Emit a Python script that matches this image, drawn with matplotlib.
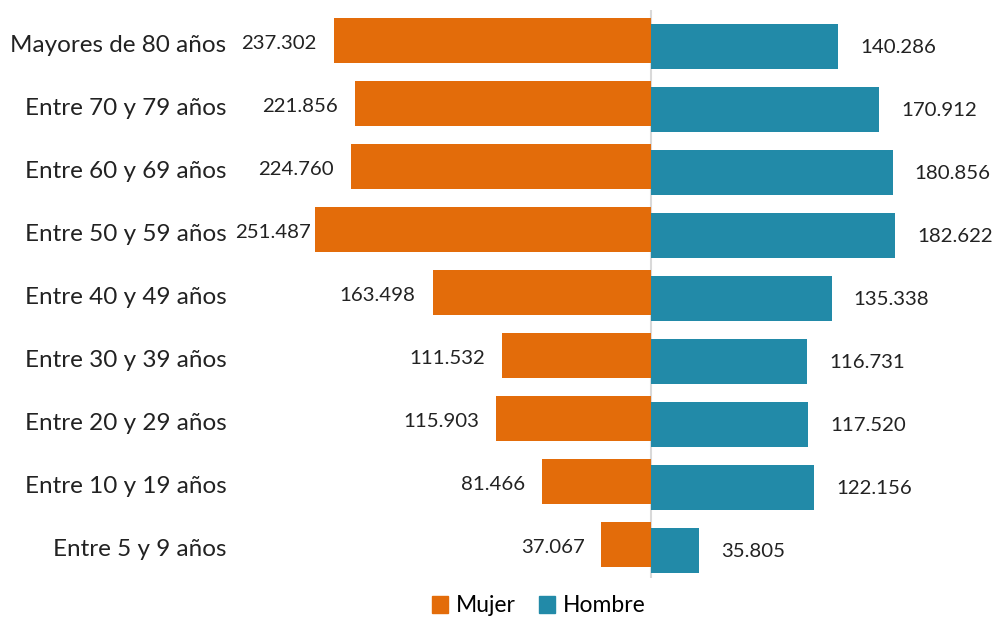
import matplotlib
matplotlib.use("Agg")
from matplotlib import pyplot as plt
from matplotlib.patches import Patch

plt.rcParams['font.family'] = ['Lato', 'DejaVu Sans']

# DATA
grupos = ["Mayores de 80 años", "Entre 70 y 79 años", "Entre 60 y 69 años",
          "Entre 50 y 59 años", "Entre 40 y 49 años", "Entre 30 y 39 años",
          "Entre 20 y 29 años", "Entre 10 y 19 años", "Entre 5 y 9 años"]
mujer = [237302, 221856, 224760, 251487, 163498, 111532, 115903, 81466, 37067]
hombre = [140286, 170912, 180856, 182622, 135338, 116731, 117520, 122156, 35805]

naranja = "#E36C0A"
azul = "#228AA8"

def fmt(v):
    return "{:,}".format(v).replace(",", ".")

W, H = 995, 619
fig = plt.figure(figsize=(W / 100, H / 100), dpi=100)
# axes placed in pixel terms
left_px, top_px, bottom_px = 236, 10, 578
ax = fig.add_axes([left_px / W, 1 - bottom_px / H, 1 - left_px / W, (bottom_px - top_px) / H])

s = 336 / 251487  # px per person
centro = 651
ax.set_xlim(-(centro - left_px) / s, (W - centro) / s)
ax.set_ylim(8 + (bottom_px - 547.5) / 63, -(43.5 - top_px) / 63)

y = list(range(len(grupos)))
alto = 45 / 63
desp = 3 / 63
ax.barh([i - desp for i in y], [-v for v in mujer], height=alto, color=naranja)
ax.barh([i + desp for i in y], hombre, height=alto, color=azul)
ax.axvline(0, color="#d9d9d9", lw=1.5, zorder=0)

# value labels
tope = -254470  # keep the left labels clear of the category names
for i, v in enumerate(mujer):
    x = max(-v - 17 / s, tope)
    ax.text(x, i - desp + 0.05, fmt(v), ha="right", va="center", fontsize=14.7, color="#222222")
for i, v in enumerate(hombre):
    ax.text(v + 22 / s, i + desp + 0.02, fmt(v), ha="left", va="center", fontsize=14.7, color="#222222")

ax.set_yticks(y)
ax.set_yticklabels(grupos, fontsize=17.5, color="#222222")
ax.tick_params(axis="y", length=0, pad=7)
ax.set_xticks([])
for sp in ax.spines.values():
    sp.set_visible(False)

handles = [Patch(color=naranja, label="Mujer"), Patch(color=azul, label="Hombre")]
fig.legend(handles=handles, loc="center", bbox_to_anchor=(539 / W, 1 - 606 / H), ncol=2,
           frameon=False, fontsize=16.5, handlelength=0.7, handleheight=0.7,
           handletextpad=0.35, columnspacing=1.0, borderaxespad=0)

fig.savefig("out.png", dpi=100)
